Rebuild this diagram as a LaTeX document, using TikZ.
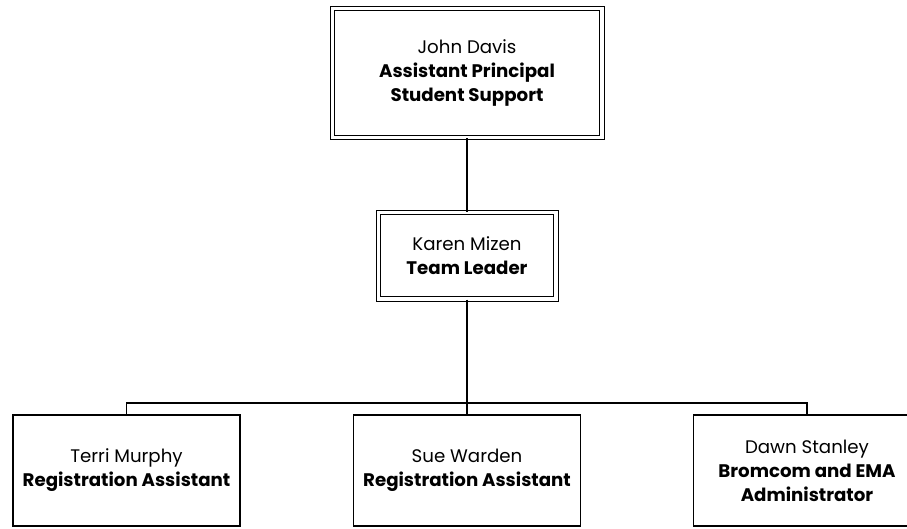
\documentclass[tikz,border=0pt]{standalone}
\usepackage{fontspec}
\setmainfont{Poppins}
\begin{document}
\begin{tikzpicture}[x=1pt,y=-1pt,
  txt/.style={font=\fontsize{18.2}{24}\selectfont, align=center},
  dbox/.style={draw, line width=1pt, double, double distance=3.5pt, inner sep=0pt, txt},
  sbox/.style={draw, line width=1.4pt, inner sep=0pt, txt},
  conn/.style={line width=1.4pt}]
\useasboundingbox (0,0) rectangle (907,528);
\begin{scope}
\clip (0,0) rectangle (907,528);
\node[dbox, minimum width=269.5pt, minimum height=129pt] (jd) at (467,73) {John Davis\\\textbf{Assistant Principal}\\\textbf{Student Support}};
\node[dbox, minimum width=177.5pt, minimum height=86.5pt] (km) at (467,255.75) {Karen Mizen\\\textbf{Team Leader}};
\node[sbox, minimum width=227pt, minimum height=111pt] (tm) at (126.5,470.5) {Terri Murphy\\\textbf{Registration Assistant}};
\node[sbox, minimum width=227pt, minimum height=111pt] (sw) at (467,470.5) {Sue Warden\\\textbf{Registration Assistant}};
\node[sbox, minimum width=227pt, minimum height=111pt] (ds) at (807,470.5) {Dawn Stanley\\\textbf{Bromcom and EMA}\\\textbf{Administrator}};
\coordinate (bus) at (467,403);
\draw[conn] (jd.south) -- (km.north);
\draw[conn] (km.south) -- (bus);
\draw[conn] (tm.north) |- (bus) -| (ds.north);
\draw[conn] (bus) -- (sw.north);
\end{scope}
\end{tikzpicture}
\end{document}
